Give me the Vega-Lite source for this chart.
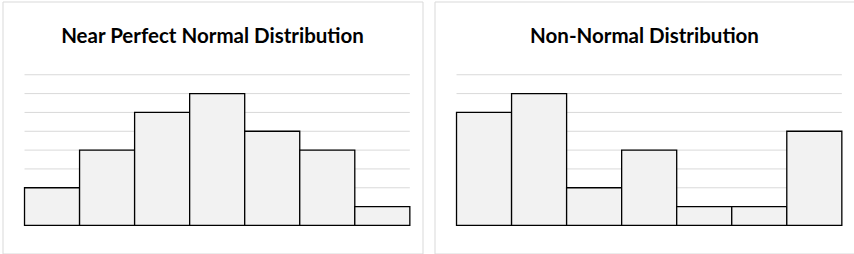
{
  "$schema": "https://vega.github.io/schema/vega-lite/v6.json",
  "padding": {"left": 1.5, "top": 0.5, "right": 0, "bottom": 0},
  "background": "white",
  "config": {
    "view": {"stroke": "#d9d9d9", "strokeWidth": 1, "fill": "white"},
    "concat": {"spacing": 10}
  },
  "datasets": {
    "grid": [{"g": 1}, {"g": 2}, {"g": 3}, {"g": 4}, {"g": 5}, {"g": 6}, {"g": 7}, {"g": 8}],
    "normal": [
      {"start": 0, "end": 1, "count": 2},
      {"start": 1, "end": 2, "count": 4},
      {"start": 2, "end": 3, "count": 6},
      {"start": 3, "end": 4, "count": 7},
      {"start": 4, "end": 5, "count": 5},
      {"start": 5, "end": 6, "count": 4},
      {"start": 6, "end": 7, "count": 1}
    ],
    "nonnormal": [
      {"start": 0, "end": 1, "count": 6},
      {"start": 1, "end": 2, "count": 7},
      {"start": 2, "end": 3, "count": 2},
      {"start": 3, "end": 4, "count": 4},
      {"start": 4, "end": 5, "count": 1},
      {"start": 5, "end": 6, "count": 1},
      {"start": 6, "end": 7, "count": 5}
    ]
  },
  "hconcat": [
    {
      "width": 420,
      "height": 252,
      "title": {"text": "Near Perfect Normal Distribution", "font": "Lato", "fontSize": 20.5, "fontWeight": "bold", "color": "#000000", "anchor": "middle", "offset": -62, "baseline": "alphabetic"},
      "layer": [
        {
          "data": {"name": "grid"},
          "mark": {"type": "rule", "color": "#d9d9d9", "strokeWidth": 1},
          "encoding": {
            "y": {"field": "g", "type": "quantitative", "scale": {"domain": [-1.49, 11.89], "nice": false, "zero": false}, "axis": null},
            "x": {"datum": 0, "type": "quantitative", "scale": {"domain": [-0.40, 7.23], "nice": false, "zero": false}, "axis": null},
            "x2": {"datum": 7}
          }
        },
        {
          "data": {"name": "normal"},
          "mark": {"type": "rect", "fill": "#f2f2f2", "stroke": "#000000", "strokeWidth": 1.3},
          "encoding": {
            "x": {"field": "start", "type": "quantitative", "scale": {"domain": [-0.40, 7.23], "nice": false, "zero": false}, "axis": null},
            "x2": {"field": "end"},
            "y": {"field": "count", "type": "quantitative", "scale": {"domain": [-1.49, 11.89], "nice": false, "zero": false}, "axis": null},
            "y2": {"datum": 0}
          }
        }
      ]
    },
    {
      "width": 420,
      "height": 252,
      "title": {"text": "Non-Normal Distribution", "font": "Lato", "fontSize": 20.5, "fontWeight": "bold", "color": "#000000", "anchor": "middle", "offset": -62, "baseline": "alphabetic"},
      "layer": [
        {
          "data": {"name": "grid"},
          "mark": {"type": "rule", "color": "#d9d9d9", "strokeWidth": 1},
          "encoding": {
            "y": {"field": "g", "type": "quantitative", "scale": {"domain": [-1.49, 11.89], "nice": false, "zero": false}, "axis": null},
            "x": {"datum": 0, "type": "quantitative", "scale": {"domain": [-0.40, 7.23], "nice": false, "zero": false}, "axis": null},
            "x2": {"datum": 7}
          }
        },
        {
          "data": {"name": "nonnormal"},
          "mark": {"type": "rect", "fill": "#f2f2f2", "stroke": "#000000", "strokeWidth": 1.3},
          "encoding": {
            "x": {"field": "start", "type": "quantitative", "scale": {"domain": [-0.40, 7.23], "nice": false, "zero": false}, "axis": null},
            "x2": {"field": "end"},
            "y": {"field": "count", "type": "quantitative", "scale": {"domain": [-1.49, 11.89], "nice": false, "zero": false}, "axis": null},
            "y2": {"datum": 0}
          }
        }
      ]
    }
  ]
}
